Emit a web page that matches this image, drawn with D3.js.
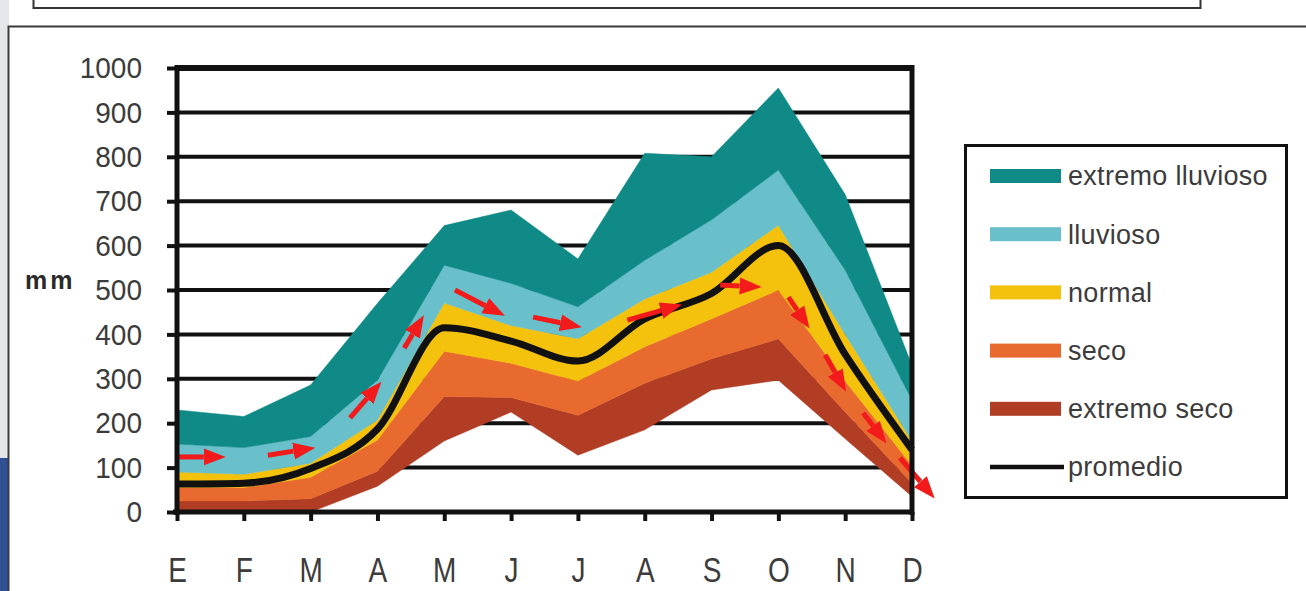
<!DOCTYPE html>
<html><head><meta charset="utf-8">
<script src="https://cdn.jsdelivr.net/npm/d3@7"></script>
<style>html,body{margin:0;padding:0;background:#fff;overflow:hidden}</style>
</head><body>
<svg id="c" width="1306" height="591"></svg>
<script>
// ---------- data ----------
const months = ["E","F","M","A","M","J","J","A","S","O","N","D"];
const yTicks = [0,100,200,300,400,500,600,700,800,900,1000];
const yLabel = "mm";

// band boundaries (mm)
const extremoSecoBase   = [0, 0, 0, 58, 160, 225, 128, 185, 275, 297, 165, 35];
const extremoSecoTop    = [25, 25, 30, 92, 260, 258, 218, 290, 345, 390, 225, 65];
const secoTop           = [55, 55, 78, 162, 362, 335, 295, 372, 435, 500, 295, 105];
const normalTop         = [90, 85, 110, 207, 471, 420, 390, 480, 540, 646, 400, 160];
const lluviosoTop       = [153, 145, 170, 297, 556, 515, 462, 567, 658, 770, 545, 252];
const extremoLluviosoTop= [230, 215, 286, 470, 645, 680, 570, 808, 800, 955, 715, 330];
const promedio          = [63, 65, 98, 187, 415, 385, 340, 435, 492, 600, 355, 140];

const seriesNames  = ["extremo lluvioso","lluvioso","normal","seco","extremo seco","promedio"];
const seriesColors = ["#0f8a86","#69bfca","#f4c20d","#e96a2e","#b23d25","#111111"];

// trend arrows: [monthPosition, mm]
const arrowFrom = [[0.01,124],[1.36,128],[2.59,212],[3.40,369],[4.16,500],[5.33,439],[6.74,432],[8.13,511],[9.15,484],[9.70,354],[10.27,223],[10.82,122]];
const arrowTo   = [[0.70,124],[2.04,144],[3.04,290],[3.68,439],[4.88,444],[6.03,417],[7.53,466],[8.72,507],[9.45,417],[10.0,275],[10.60,158],[11.32,34]];

// ---------- drawing ----------
const svg = d3.select("#c");
const W = 1306, H = 591;

// slide background
svg.append("rect").attr("width",W).attr("height",H).attr("fill","#fff");
svg.append("rect").attr("x",0).attr("y",0).attr("width",9).attr("height",H).attr("fill","#e4e6ea");
svg.append("rect").attr("x",0).attr("y",458).attr("width",9).attr("height",H-458).attr("fill","#2d5193");
svg.append("rect").attr("x",33.5).attr("y",-10).attr("width",1167).attr("height",18)
  .attr("fill","#fff").attr("stroke","#333").attr("stroke-width",2);
svg.append("rect").attr("x",8.5).attr("y",26.5).attr("width",1320).attr("height",620)
  .attr("fill","#fff").attr("stroke","#3a3a3a").attr("stroke-width",2);

const x = d3.scaleLinear().domain([0, months.length-1]).range([177, 912]);
const y = d3.scaleLinear().domain([0, 1000]).range([512, 68]);
const idx = d3.range(months.length);

// gridlines
svg.append("g").selectAll("line").data(yTicks.filter(t=>t>0)).join("line")
  .attr("x1",x(0)).attr("x2",x(11)).attr("y1",d=>y(d)).attr("y2",d=>y(d))
  .attr("stroke","#111").attr("stroke-width",d=>d===1000?6:4);

// bands
const bands = [
  {lo: extremoSecoBase, hi: extremoSecoTop, c: seriesColors[4]},
  {lo: extremoSecoTop,  hi: secoTop,        c: seriesColors[3]},
  {lo: secoTop,         hi: normalTop,      c: seriesColors[2]},
  {lo: normalTop,       hi: lluviosoTop,    c: seriesColors[1]},
  {lo: lluviosoTop,     hi: extremoLluviosoTop, c: seriesColors[0]}
];
const area = (lo,hi) => d3.area().x(i=>x(i)).y0(i=>y(lo[i])).y1(i=>y(hi[i]))(idx);
svg.append("g").selectAll("path").data(bands).join("path")
  .attr("d",b=>area(b.lo,b.hi)).attr("fill",b=>b.c).attr("stroke",b=>b.c).attr("stroke-width",0.5);

// promedio line
svg.append("path").attr("d", d3.line().x(i=>x(i)).y(i=>y(promedio[i])).curve(d3.curveMonotoneX)(idx))
  .attr("fill","none").attr("stroke","#111").attr("stroke-width",7).attr("stroke-linejoin","round");

// arrows
const defs = svg.append("defs");
defs.append("marker").attr("id","ah").attr("markerUnits","userSpaceOnUse")
  .attr("viewBox","0 -9 22 18").attr("markerWidth",22).attr("markerHeight",18)
  .attr("refX",0).attr("refY",0).attr("orient","auto")
  .append("path").attr("d","M0,-8.5L22,0L0,8.5Z").attr("fill","#f21a1a");
svg.append("g").selectAll("line").data(d3.range(arrowFrom.length)).join("line")
  .each(function(k){
    const x0=x(arrowFrom[k][0]), y0=y(arrowFrom[k][1]);
    const x1=x(arrowTo[k][0]),   y1=y(arrowTo[k][1]);
    const L=Math.hypot(x1-x0,y1-y0), s=(L-20)/L;
    d3.select(this).attr("x1",x0).attr("y1",y0)
      .attr("x2",x0+(x1-x0)*s).attr("y2",y0+(y1-y0)*s);
  })
  .attr("stroke","#f21a1a").attr("stroke-width",5).attr("marker-end","url(#ah)");

// axes
const yAxis = svg.append("g").attr("transform","translate(177,0)")
  .call(d3.axisLeft(y).tickValues(yTicks).tickFormat(d3.format("d")).tickSize(10).tickPadding(25));
yAxis.select(".domain").remove();
yAxis.selectAll(".tick line").attr("stroke","#111").attr("stroke-width",4);
yAxis.selectAll(".tick text").attr("font-family","Liberation Sans, Arial, sans-serif")
  .attr("font-size",28).attr("fill","#3c3c3c")
  .attr("transform","scale(1,1.08)").attr("y",0).attr("dy","0.32em")
  .each(function(){ const t=d3.select(this.parentNode).attr("transform"); });
// correct vertical scale offset per tick (scale about tick origin)
yAxis.selectAll(".tick text").attr("transform",null)
  .attr("transform","scale(1,1.08)");

const xAxis = svg.append("g").attr("transform","translate(0,512)")
  .call(d3.axisBottom(x).tickValues(idx).tickFormat(i=>months[i]).tickSize(9));
xAxis.select(".domain").remove();
xAxis.selectAll(".tick line").attr("stroke","#111").attr("stroke-width",4);
xAxis.selectAll(".tick text").attr("y",0).attr("dy",null)
  .attr("transform","translate(0,70) scale(0.8,1)")
  .attr("font-family","Liberation Sans, Arial, sans-serif")
  .attr("font-size",35).attr("fill","#3c3c3c");

// frame lines
svg.append("line").attr("x1",x(0)).attr("x2",x(0)).attr("y1",y(1000)-3).attr("y2",y(0)+3)
  .attr("stroke","#111").attr("stroke-width",5);
svg.append("line").attr("x1",x(11)).attr("x2",x(11)).attr("y1",y(1000)-3).attr("y2",y(0)+3)
  .attr("stroke","#111").attr("stroke-width",5);
svg.append("line").attr("x1",x(0)-4).attr("x2",x(11)+2).attr("y1",y(0)).attr("y2",y(0))
  .attr("stroke","#111").attr("stroke-width",5);

// y label
svg.append("text").attr("x",25).attr("y",289).text(yLabel)
  .attr("font-family","Liberation Sans, Arial, sans-serif").attr("font-size",25)
  .attr("font-weight","bold").attr("letter-spacing",3).attr("fill","#2a2a2a");

// legend
const lg = svg.append("g");
lg.append("rect").attr("x",965.5).attr("y",145.5).attr("width",321).attr("height",352)
  .attr("fill","#fff").attr("stroke","#111").attr("stroke-width",3);
const legY = d3.scaleLinear().domain([0,5]).range([176,467]);
const items = lg.selectAll("g").data(d3.range(seriesNames.length)).join("g")
  .attr("transform",k=>`translate(0,${legY(k)})`);
items.filter(k=>k<5).append("rect").attr("x",990).attr("y",-7).attr("width",71).attr("height",14)
  .attr("fill",k=>seriesColors[k]);
items.filter(k=>k===5).append("line").attr("x1",990).attr("x2",1064).attr("y1",0).attr("y2",0)
  .attr("stroke","#111").attr("stroke-width",4.5);
items.append("text").attr("x",1068).attr("y",0).attr("dy","0.35em").text(k=>seriesNames[k])
  .attr("font-family","Liberation Sans, Arial, sans-serif").attr("font-size",27)
  .attr("letter-spacing",0.3).attr("fill","#3c3c3c");
</script>
</body></html>
